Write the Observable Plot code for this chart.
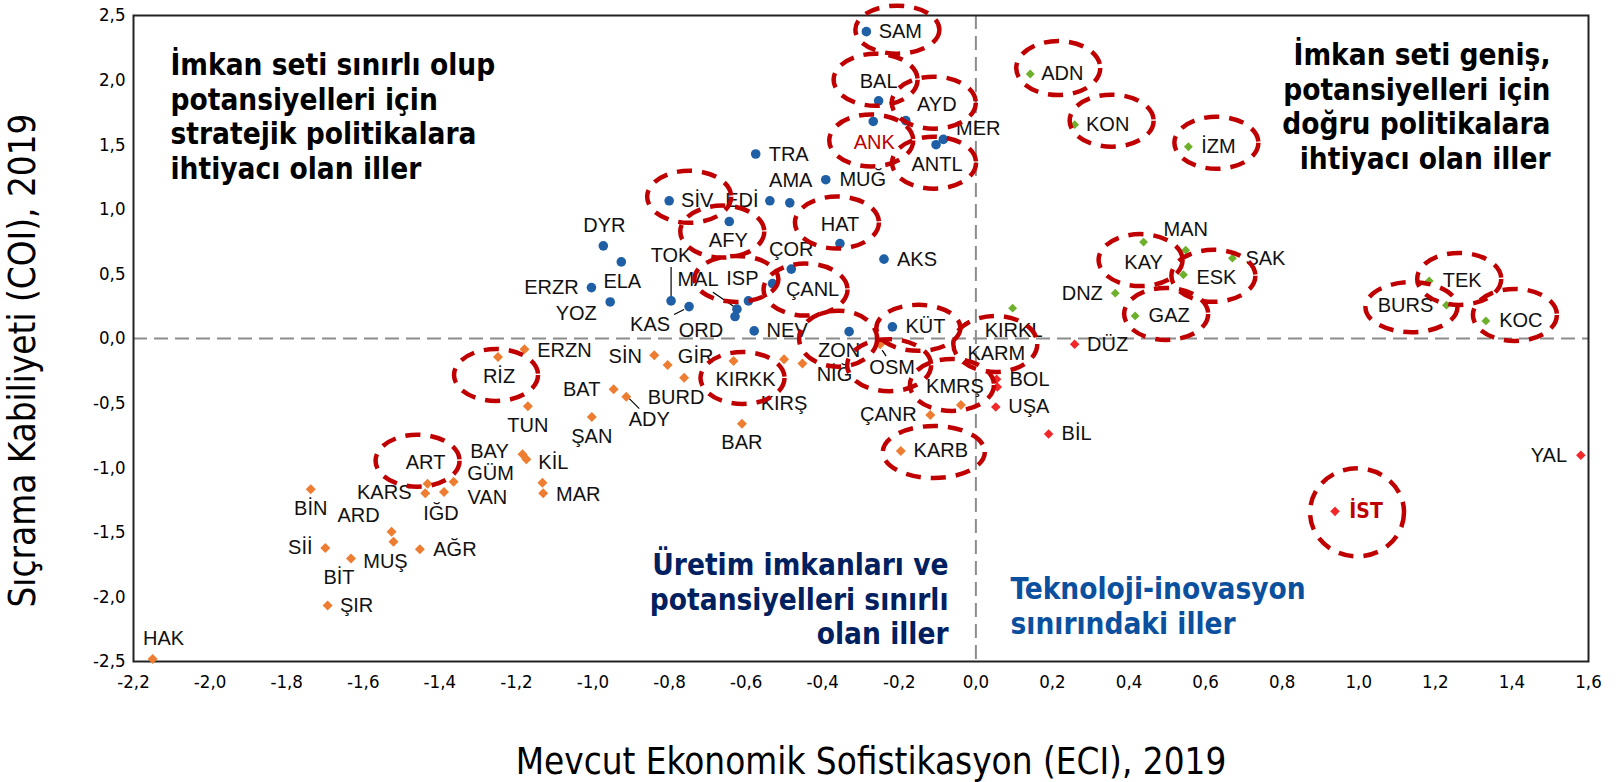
<!DOCTYPE html>
<html><head><meta charset="utf-8">
<script src="https://cdn.jsdelivr.net/npm/d3@7"></script>
<script src="https://cdn.jsdelivr.net/npm/@observablehq/plot@0.6"></script>
<style>
body{margin:0;background:#fff;}
#chart svg{display:block;overflow:visible;}
</style></head><body><div id="chart"></div>
<script>
// ---------- DATA ----------
const blueNames = ["SAM","BAL","ANK","AYD","MER","ANTL","TRA","MUĞ","EDİ","AMA","SİV","AFY","HAT","ÇOR","AKS","ÇANL","TOK","MAL","ISP","KAS","ORD","NEV","DYR","ELA","ERZR","YOZ","KÜT","ZON"];
const blueECI = [-0.286,-0.254,-0.268,-0.183,-0.085,-0.104,-0.575,-0.392,-0.538,-0.486,-0.801,-0.644,-0.355,-0.482,-0.240,-0.531,-0.796,-0.624,-0.594,-0.749,-0.629,-0.579,-0.973,-0.926,-1.004,-0.955,-0.218,-0.331];
const blueCOI = [2.375,1.840,1.680,1.686,1.541,1.500,1.428,1.229,1.066,1.050,1.066,0.905,0.735,0.537,0.614,0.425,0.291,0.227,0.291,0.247,0.170,0.059,0.717,0.593,0.394,0.283,0.090,0.053];

const greenNames = ["ADN","KON","İZM","KAY","MAN","SAK","ESK","DNZ","GAZ","TEK","BURS","KOC","KIRKL"];
const greenECI = [0.142,0.258,0.555,0.438,0.548,0.670,0.542,0.364,0.416,1.184,1.229,1.332,0.096];
const greenCOI = [2.047,1.655,1.484,0.746,0.684,0.622,0.493,0.351,0.175,0.446,0.258,0.136,0.235];

const redNames = ["DÜZ","BOL","KARM","UŞA","BİL","YAL","İST"];
const redECI = [0.258,0.054,0.056,0.052,0.190,1.580,0.938];
const redCOI = [-0.044,-0.315,-0.375,-0.530,-0.739,-0.903,-1.338];

const orangeNames = ["ERZN","RİZ","TUN","BAT","ADY","ŞAN","BAY","KİL","ART","GÜM","KARS","IĞD","VAN","MAR","BİN","ARD","MUŞ","Sİİ","BİT","AĞR","ŞIR","HAK","SİN","GİR","BURD","KIRKK","KIRŞ","NİĞ","BAR","OSM","KMRŞ","ÇANR","KARB"];
const orangeECI = [-1.179,-1.248,-1.170,-0.946,-0.913,-1.003,-1.184,-1.174,-1.432,-1.364,-1.438,-1.389,-1.132,-1.130,-1.737,-1.526,-1.521,-1.699,-1.632,-1.452,-1.693,-2.150,-0.840,-0.805,-0.762,-0.633,-0.501,-0.453,-0.611,-0.250,-0.039,-0.119,-0.196];
const orangeCOI = [-0.083,-0.143,-0.525,-0.393,-0.450,-0.607,-0.896,-0.935,-1.124,-1.108,-1.198,-1.188,-1.116,-1.198,-1.167,-1.496,-1.573,-1.622,-1.702,-1.632,-2.066,-2.480,-0.130,-0.205,-0.303,-0.174,-0.160,-0.194,-0.659,-0.044,-0.514,-0.592,-0.871];

const xTicks = [-2.2,-2.0,-1.8,-1.6,-1.4,-1.2,-1.0,-0.8,-0.6,-0.4,-0.2,0.0,0.2,0.4,0.6,0.8,1.0,1.2,1.4,1.6];
const yTicks = [-2.5,-2.0,-1.5,-1.0,-0.5,0.0,0.5,1.0,1.5,2.0,2.5];

const circledNames = ["SAM","BAL","AYD","ANK","ANTL","SİV","AFY","HAT","ISP","ÇANL","KÜT","ZON","OSM","KMRŞ","KARM","KIRKK","KARB","RİZ","ART","ADN","KON","İZM","KAY","ESK","GAZ","TEK","BURS","KOC","İST"];
const redLabelNames = ["ANK","İST"];

const quadrantTexts = {
  tl: "İmkan seti sınırlı olup\npotansiyelleri için\nstratejik politikalara\nihtiyacı olan iller",
  tr: "İmkan seti geniş,\npotansiyelleri için\ndoğru politikalara\nihtiyacı olan iller",
  bl: "Üretim imkanları ve\npotansiyelleri sınırlı\nolan iller",
  br: "Teknoloji-inovasyon\nsınırındaki iller"
};
const xTitle = "Mevcut Ekonomik Sofistikasyon (ECI), 2019";
const yTitle = "Sıçrama Kabiliyeti (COI), 2019";

// ---------- LAYOUT (pixels) ----------
const W = 1619, H = 782, ML = 133, MR = 31, MT = 15, MB = 121;
const kx = (W - ML - MR) / (1.6 - (-2.2));
const ky = (H - MT - MB) / (2.5 - (-2.5));
const labelOffset = {
  SAM:[34,0], BAL:[0,-19], ANK:[1,21], AYD:[31,-16], MER:[35,-11], ANTL:[1,20], TRA:[33,1], "MUĞ":[37,0],
  "EDİ":[-28,0], AMA:[1,-22], "SİV":[28,0], AFY:[-1,19], HAT:[0,-19], "ÇOR":[0,-20], AKS:[33,0], "ÇANL":[40,6],
  TOK:[0,-45], MAL:[-39,-30], ISP:[-6,-22], KAS:[-39,18], ORD:[-34,14], NEV:[33,0], DYR:[1,-20], ELA:[1,20],
  ERZR:[-40,0], YOZ:[-34,12], "KÜT":[33,0], ZON:[-10,19],
  ADN:[32,0], KON:[33,0], "İZM":[30,0], KAY:[0,20], MAN:[0,-21], SAK:[33,0], ESK:[33,3], DNZ:[-33,0], GAZ:[34,0],
  TEK:[33,0], BURS:[-41,0], KOC:[35,0], KIRKL:[1,22],
  "DÜZ":[33,0], BOL:[33,0], KARM:[-1,-33], "UŞA":[33,0], "BİL":[28,0], YAL:[-32,0], "İST":[31,0],
  ERZN:[40,1], "RİZ":[1,20], TUN:[0,19], BAT:[-32,0], ADY:[23,23], "ŞAN":[0,20], BAY:[-33,-3], "KİL":[27,3],
  ART:[-2,-21], "GÜM":[37,-8], KARS:[-41,-1], "IĞD":[-3,22], VAN:[-55,15], MAR:[35,1], "BİN":[0,19], ARD:[-33,-16],
  "MUŞ":[-8,20], "Sİİ":[-25,0], "BİT":[-12,19], "AĞR":[35,0], "ŞIR":[29,0], HAK:[11,-20], "SİN":[-29,1], "GİR":[28,-8],
  BURD:[-8,20], KIRKK:[12,19], "KIRŞ":[0,44], "NİĞ":[32,11], BAR:[0,19], OSM:[12,23], "KMRŞ":[-6,-18], "ÇANR":[-42,0], KARB:[40,0]
};
const leaderLines = { TOK:[[0,-34],[0,-4]], MAL:[[-24,-17],[-2,-2]], KAS:[[-15,8],[-5,3]], ADY:[[3,2],[13,12]], OSM:[[2,6],[6,12]] };
const ellipseShift = { "SİV":[-8,-4], AFY:[-6,-9], ISP:[-6,0], "ÇANL":[-7,0], "KÜT":[-7,1], ADN:[-4,-6], KON:[4,-4], "İZM":[-2,-4],
  ZON:[-1,-12], KARM:[-1,-10], KARB:[-7,1], ART:[-8,-2], KOC:[-6,-6], BURS:[6,2], "İST":[-9,1] };
const ellipseSize = { SAM:[42,24], ISP:[42,23], "KÜT":[42,23], ZON:[39,28], KARM:[42,28], KARB:[51,26], BURS:[46,25], ADN:[42,27], "İST":[47,44] };

// ---------- BUILD ----------
function rows(names, xs, ys, group) { return names.map((n, i) => ({name: n, x: xs[i], y: ys[i], group})); }
const blue = rows(blueNames, blueECI, blueCOI, "blue");
const green = rows(greenNames, greenECI, greenCOI, "green");
const red = rows(redNames, redECI, redCOI, "red");
const orange = rows(orangeNames, orangeECI, orangeCOI, "orange");
const all = [...blue, ...green, ...red, ...orange];
const byName = new Map(all.map(d => [d.name, d]));
const off = d => labelOffset[d.name] || [33, 0];
const lx = d => d.x + off(d)[0] / kx;
const ly = d => d.y - off(d)[1] / ky;

const labelFont = "'Liberation Sans', Arial, sans-serif";
const tahoma = "'DejaVu Sans Condensed', 'DejaVu Sans', sans-serif";
const fmt = d => (Math.round(d * 10) / 10).toFixed(1).replace(".", ",");

function ellipseSymbol(rx, ry) {
  const k = 0.5523;
  return { draw(ctx) {
    ctx.moveTo(rx, 0);
    ctx.bezierCurveTo(rx, k * ry, k * rx, ry, 0, ry);
    ctx.bezierCurveTo(-k * rx, ry, -rx, k * ry, -rx, 0);
    ctx.bezierCurveTo(-rx, -k * ry, -k * rx, -ry, 0, -ry);
    ctx.bezierCurveTo(k * rx, -ry, rx, -k * ry, rx, 0);
    ctx.closePath();
  }};
}
const ellipseMarks = circledNames.map(n => {
  const d = byName.get(n);
  const s = ellipseShift[n] || [-3, -2];
  const [rx, ry] = ellipseSize[n] || [42, 26];
  const cx = d.x + (off(d)[0] + s[0]) / kx;
  const cy = d.y - (off(d)[1] + s[1]) / ky;
  return Plot.dot([{cx, cy}], {x: "cx", y: "cy", symbol: ellipseSymbol(rx, ry), r: 10, fill: "none",
    stroke: "#c00000", strokeWidth: 4.5, strokeDasharray: "15,10"});
});
const leaderData = Object.entries(leaderLines).map(([n, [a, b]]) => {
  const d = byName.get(n);
  return {x1: d.x + a[0] / kx, y1: d.y - a[1] / ky, x2: d.x + b[0] / kx, y2: d.y - b[1] / ky};
});
const blackLabels = all.filter(d => !redLabelNames.includes(d.name));
const qFont = 29.5, qLH = 34.6 / 29.5;

const chart = Plot.plot({
  width: W, height: H, marginLeft: ML, marginRight: MR, marginTop: MT, marginBottom: MB,
  x: {domain: [-2.2, 1.6], ticks: xTicks, tickFormat: fmt, tickSize: 0, tickPadding: 13, label: null},
  y: {domain: [-2.5, 2.5], ticks: yTicks, tickFormat: fmt, tickSize: 0, tickPadding: 8, label: null},
  style: {fontFamily: tahoma, fontSize: "18.5px", color: "#000", background: "#fff", overflow: "visible"},
  marks: [
    Plot.ruleX([0], {stroke: "#8c8c8c", strokeWidth: 2, strokeDasharray: "14,7"}),
    Plot.ruleY([0], {stroke: "#8c8c8c", strokeWidth: 2, strokeDasharray: "14,7"}),
    Plot.frame({stroke: "#222", strokeWidth: 2}),
    Plot.link(leaderData, {x1: "x1", y1: "y1", x2: "x2", y2: "y2", stroke: "#000", strokeWidth: 1.2}),
    Plot.dot(blue, {x: "x", y: "y", r: 4.8, fill: "#1f5fa6", symbol: "circle"}),
    Plot.dot(green, {x: "x", y: "y", r: 4, fill: "#6cb02c", symbol: "diamond2"}),
    Plot.dot(orange, {x: "x", y: "y", r: 4.5, fill: "#ee7d31", symbol: "diamond2"}),
    Plot.dot(red, {x: "x", y: "y", r: 4.3, fill: "#f0282a", symbol: "diamond2"}),
    Plot.text(blackLabels, {x: lx, y: ly, text: "name", fontSize: 20, fontFamily: labelFont, fill: "#111"}),
    Plot.text(all.filter(d => d.name === "ANK"), {x: lx, y: ly, text: "name", fontSize: 20, fontFamily: labelFont, fill: "#c00000"}),
    Plot.text(all.filter(d => d.name === "İST"), {x: lx, y: ly, text: "name", fontSize: 21, fontFamily: tahoma, fontWeight: "bold", fill: "#c00000"}),
    ...ellipseMarks,
    Plot.text([quadrantTexts.tl], {text: d => d, frameAnchor: "top-left", dx: 37, dy: 35, textAnchor: "start", lineAnchor: "top", lineHeight: qLH, fontSize: qFont, fontWeight: "bold", fill: "#000"}),
    Plot.text([quadrantTexts.tr], {text: d => d, frameAnchor: "top-right", dx: -38, dy: 25, textAnchor: "end", lineAnchor: "top", lineHeight: qLH, fontSize: qFont, fontWeight: "bold", fill: "#000"}),
    Plot.text([quadrantTexts.bl], {text: d => d, frameAnchor: "top-left", dx: 815, dy: 535, textAnchor: "end", lineAnchor: "top", lineHeight: qLH, fontSize: qFont, fontWeight: "bold", fill: "#002060"}),
    Plot.text([quadrantTexts.br], {text: d => d, frameAnchor: "top-left", dx: 877, dy: 559, textAnchor: "start", lineAnchor: "top", lineHeight: qLH, fontSize: qFont, fontWeight: "bold", fill: "#0b509e"}),
    Plot.text([xTitle], {text: d => d, frameAnchor: "bottom", dx: 10, dy: 101, textAnchor: "middle", lineAnchor: "middle", fontSize: 36.5, fill: "#000"}),
    Plot.text([yTitle], {text: d => d, frameAnchor: "left", dx: -110, dy: 22, textAnchor: "middle", lineAnchor: "middle", rotate: -90, fontSize: 36.5, fill: "#000"})
  ]
});
document.getElementById("chart").appendChild(chart);
</script>
</body></html>
